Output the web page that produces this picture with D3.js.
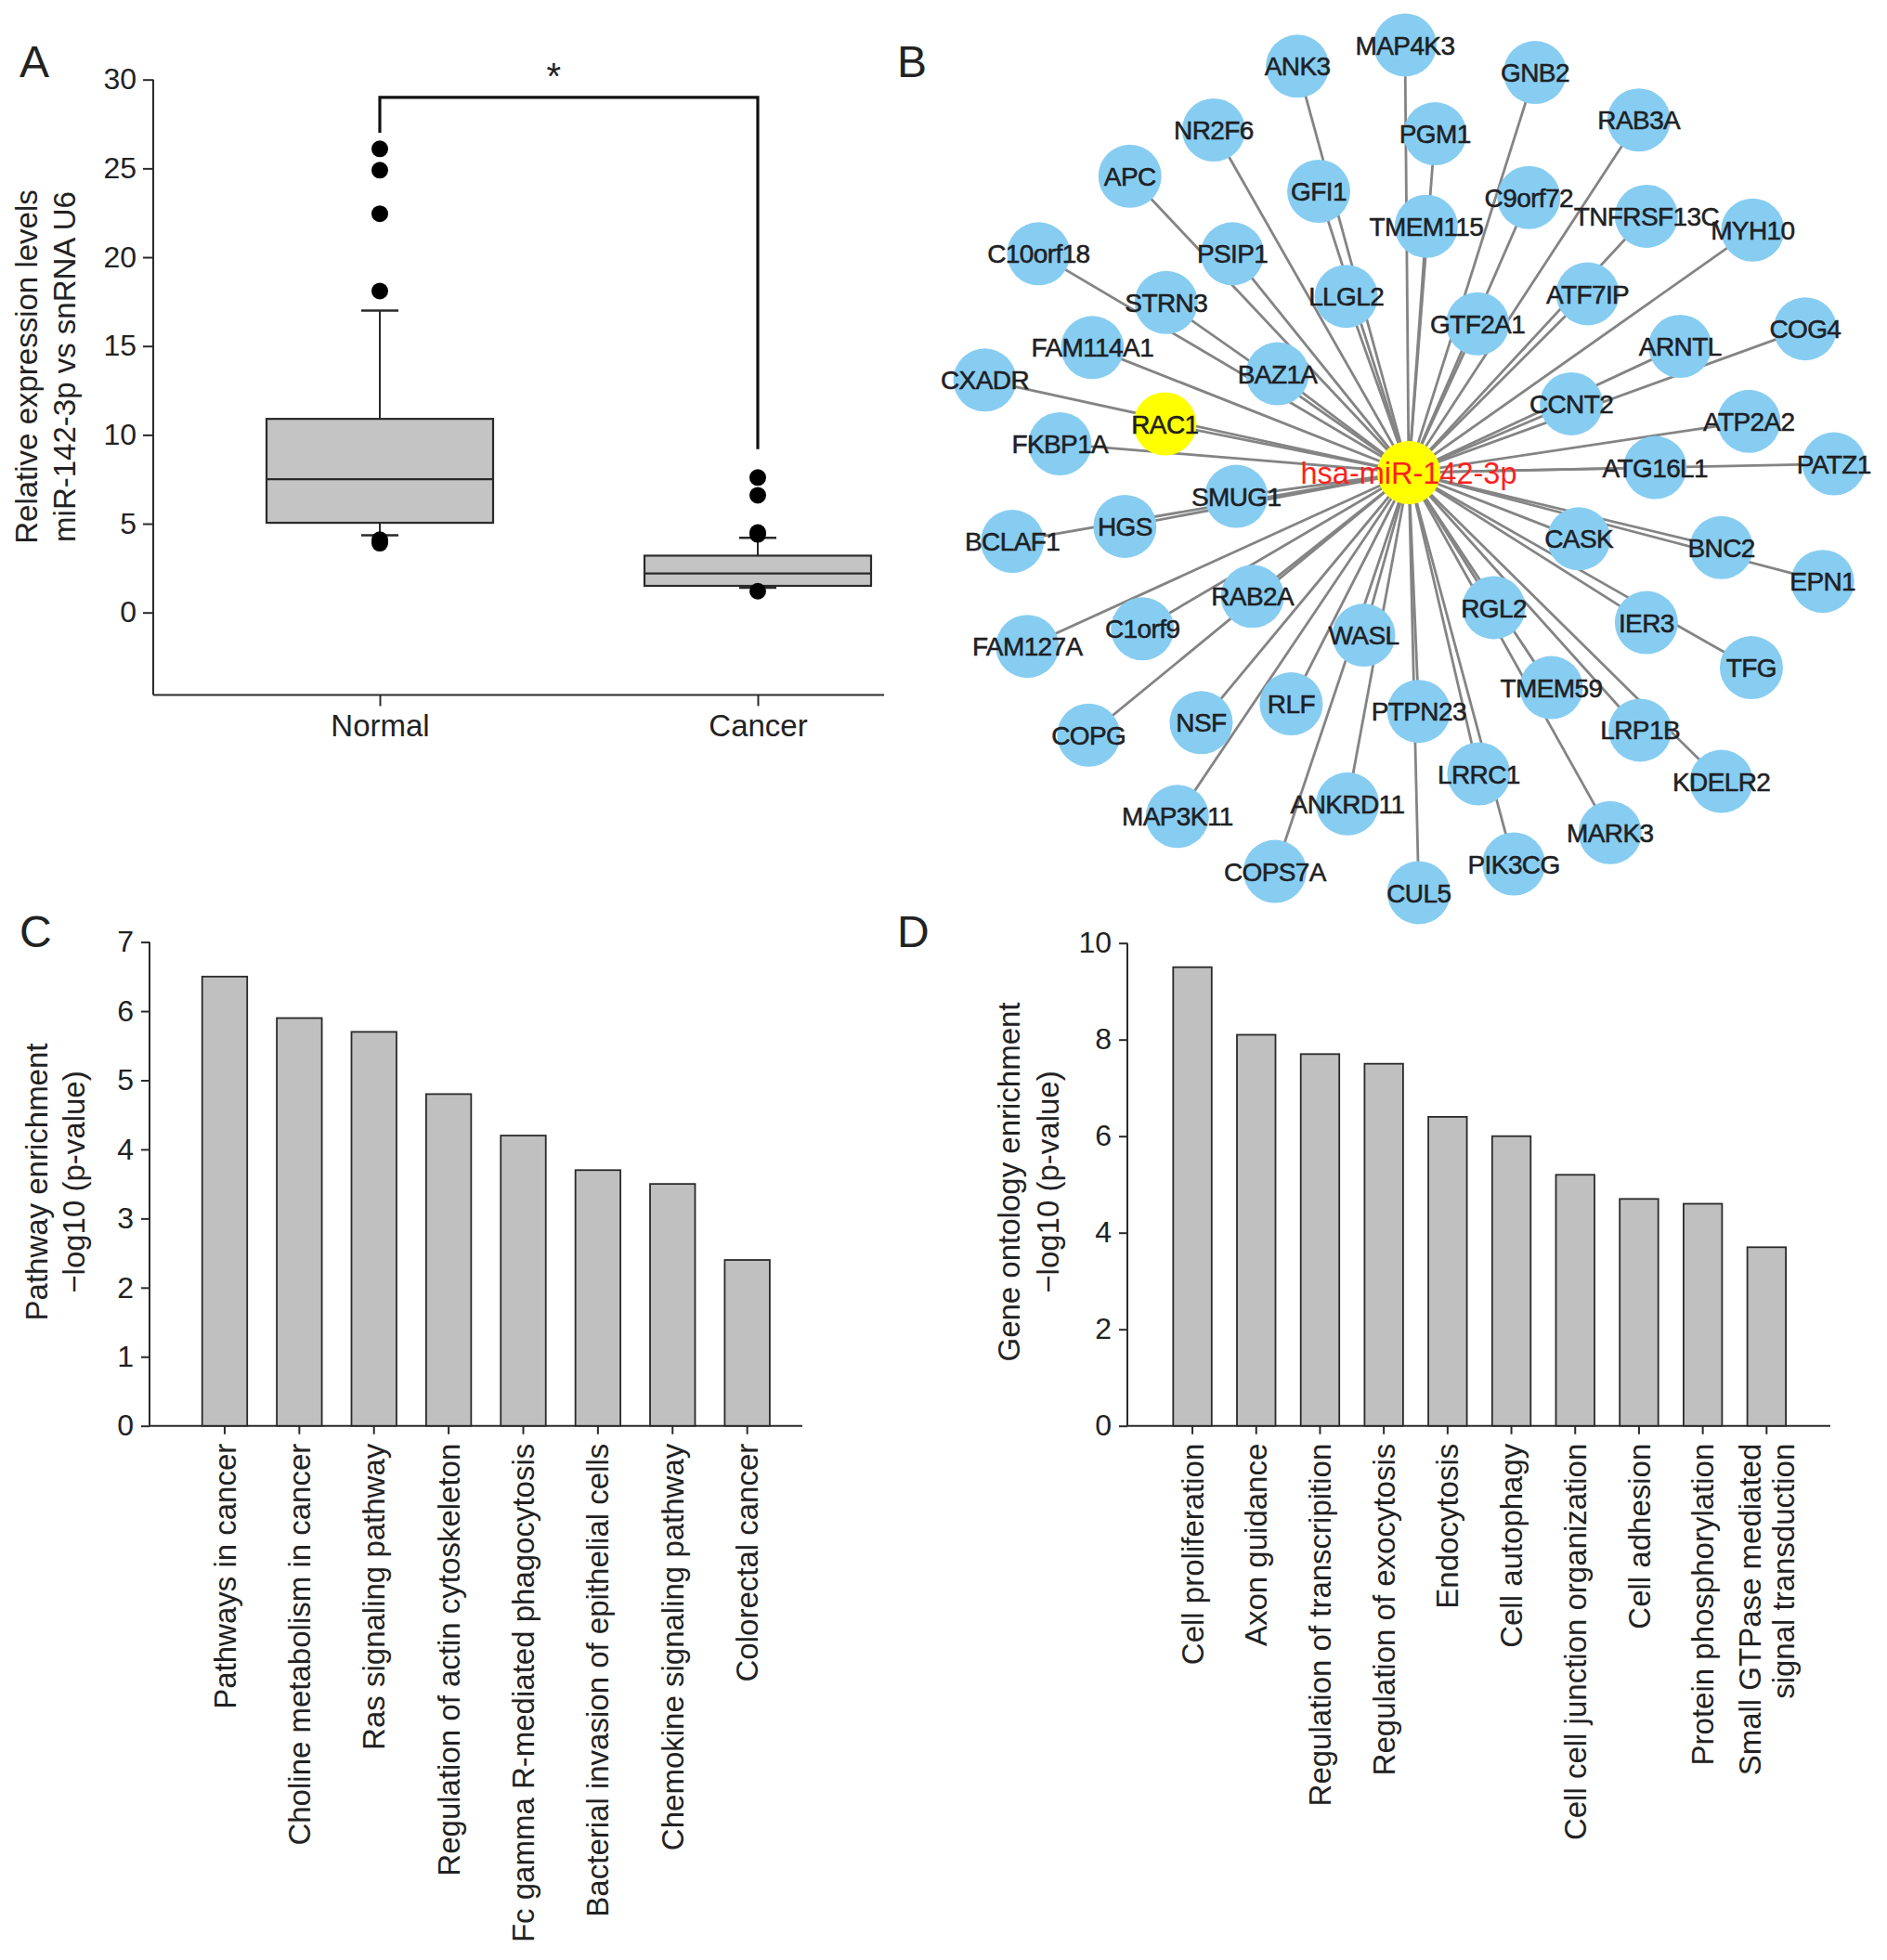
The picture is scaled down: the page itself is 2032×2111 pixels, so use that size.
<!DOCTYPE html>
<html><head><meta charset="utf-8">
<script src="https://cdn.jsdelivr.net/npm/d3@7"></script>
<style>
body{margin:0;background:#fff}
svg{display:block}
text{font-family:"Liberation Sans",Arial,Helvetica,sans-serif;fill:#222}
</style>
</head><body>
<svg id="fig" width="2032" height="2111"></svg>
<script>
// ---------------- Panel A: box plot data ----------------
const boxGroups = ["Normal", "Cancer"];
const boxQ1 = [5.05, 1.5];
const boxMedian = [7.5, 2.2];
const boxQ3 = [10.9, 3.2];
const boxWhiskerLow = [4.35, 1.4];
const boxWhiskerHigh = [17, 4.2];
const boxOutliers = [[26.1, 24.9, 22.45, 18.1, 4.1, 3.9], [7.6, 6.6, 4.5, 4.4, 1.2]];
const boxTicks = [0, 5, 10, 15, 20, 25, 30];
const sigLevels = [27, 29, 9.2]; // left end, bracket top, right end
const sigLabel = "*";

// ---------------- Panel B: network data ----------------
const hubName = "hsa-miR-142-3p";
const highlightGenes = ["RAC1"];
const geneNames = ["MAP4K3","ANK3","GNB2","NR2F6","PGM1","RAB3A","APC","GFI1","C9orf72","TMEM115",
  "TNFRSF13C","MYH10","C10orf18","PSIP1","STRN3","LLGL2","ATF7IP","GTF2A1","COG4","FAM114A1",
  "ARNTL","BAZ1A","CXADR","CCNT2","RAC1","ATP2A2","FKBP1A","PATZ1","ATG16L1","SMUG1",
  "HGS","BCLAF1","CASK","BNC2","EPN1","RAB2A","RGL2","IER3","C1orf9","WASL",
  "FAM127A","TFG","TMEM59","RLF","PTPN23","NSF","COPG","LRP1B","LRRC1","KDELR2",
  "ANKRD11","MAP3K11","MARK3","PIK3CG","COPS7A","CUL5"];
// layout coordinates relative to the hub (layout units)
const geneLayoutX = [-3,-89,101,-156,21,184,-223,-72,96,14,
  190,275,-296,-141,-194,-50,143,55,317,-253,
  217,-105,-339,130,-195,272,-279,340,197,-138,
  -227,-317,136,250,331,-125,68,190,-213,-36,
  -305,274,114,-94,8,-166,-256,185,56,250,
  -49,-185,161,84,-107,8];
const geneLayoutY = [-342,-325,-320,-274,-271,-282,-237,-225,-220,-197,
  -205,-194,-175,-175,-136,-141,-143,-119,-115,-100,
  -101,-79,-74,-55,-39,-41,-23,-7,-4,19,
  43,55,53,60,87,99,108,120,125,130,
  139,156,172,185,191,200,210,206,241,247,
  265,275,288,313,319,336];

// ---------------- Panel C: pathway enrichment ----------------
const pathwayNames = ["Pathways in cancer","Choline metabolism in cancer","Ras signaling pathway",
  "Regulation of actin cytoskeleton","Fc gamma R-mediated phagocytosis",
  "Bacterial invasion of epithelial cells","Chemokine signaling pathway","Colorectal cancer"];
const pathwayValues = [6.5, 5.9, 5.7, 4.8, 4.2, 3.7, 3.5, 2.4];
const pathwayTicks = [0, 1, 2, 3, 4, 5, 6, 7];

// ---------------- Panel D: GO enrichment ----------------
const goNames = ["Cell proliferation","Axon guidance","Regulation of transcripition","Regulation of exocytosis",
  "Endocytosis","Cell autophagy","Cell cell junction organization","Cell adhesion",
  "Protein phosphorylation","Small GTPase mediated\nsignal transduction"];
const goValues = [9.5, 8.1, 7.7, 7.5, 6.4, 6.0, 5.2, 4.7, 4.6, 3.7];
const goTicks = [0, 2, 4, 6, 8, 10];

// =====================================================
const svg = d3.select("#fig");
svg.append("rect").attr("width",2032).attr("height",2111).attr("fill","#fff");
const AX = "#2a2a2a";
const FS = 32;

function panelLetter(t, x, y){
  svg.append("text").attr("x",x).attr("y",y).attr("font-size",48).attr("fill","#111").text(t);
}
function yTitle(lines, xs, cy){
  lines.forEach((l,i)=>{
    svg.append("text").attr("transform",`translate(${xs[i]},${cy}) rotate(-90)`)
      .attr("text-anchor","middle").attr("dy","0.35em").attr("font-size",33).text(l);
  });
}
function styleAxis(g){
  g.selectAll("path.domain").remove();
  g.selectAll(".tick line").attr("stroke",AX).attr("stroke-width",2);
  g.selectAll(".tick text").attr("font-size",FS).attr("fill","#222")
    .attr("font-family",'"Liberation Sans",Arial,sans-serif');
}

// ---------------- Panel A ----------------
(function(){
  const y = d3.scaleLinear().domain([0,30]).range([659.7, 85.7]);
  const x = d3.scalePoint().domain(boxGroups).range([409, 816]);
  const yMinAxis = -4.64, xL = 165, xR = 952;
  const g = svg.append("g");
  g.append("line").attr("x1",xL).attr("x2",xL).attr("y1",y(30)).attr("y2",y(yMinAxis)).attr("stroke",AX).attr("stroke-width",2);
  g.append("line").attr("x1",xL).attr("x2",xR).attr("y1",y(yMinAxis)).attr("y2",y(yMinAxis)).attr("stroke",AX).attr("stroke-width",2);
  const ya = g.append("g").attr("transform",`translate(${xL},0)`)
    .call(d3.axisLeft(y).tickValues(boxTicks).tickFormat(d3.format("d")).tickSize(11).tickPadding(7));
  styleAxis(ya);
  const xa = g.append("g").attr("transform",`translate(0,${y(yMinAxis)})`)
    .call(d3.axisBottom(x).tickSize(12).tickPadding(9));
  styleAxis(xa);
  xa.selectAll(".tick text").attr("font-size",33);

  const bw = 244, cap = 40;
  boxGroups.forEach((grp,i)=>{
    const cx = x(grp);
    g.append("line").attr("x1",cx).attr("x2",cx).attr("y1",y(boxQ3[i])).attr("y2",y(boxWhiskerHigh[i])).attr("stroke",AX).attr("stroke-width",2);
    g.append("line").attr("x1",cx).attr("x2",cx).attr("y1",y(boxQ1[i])).attr("y2",y(boxWhiskerLow[i])).attr("stroke",AX).attr("stroke-width",2);
    [boxWhiskerHigh[i], boxWhiskerLow[i]].forEach(v=>{
      g.append("line").attr("x1",cx-cap/2).attr("x2",cx+cap/2).attr("y1",y(v)).attr("y2",y(v)).attr("stroke",AX).attr("stroke-width",2.5);
    });
    g.append("rect").attr("x",cx-bw/2).attr("width",bw).attr("y",y(boxQ3[i])).attr("height",y(boxQ1[i])-y(boxQ3[i]))
      .attr("fill","#c4c4c4").attr("stroke",AX).attr("stroke-width",2.2);
    g.append("line").attr("x1",cx-bw/2).attr("x2",cx+bw/2).attr("y1",y(boxMedian[i])).attr("y2",y(boxMedian[i])).attr("stroke",AX).attr("stroke-width",2.2);
    g.selectAll(null).data(boxOutliers[i]).enter().append("circle")
      .attr("cx",cx).attr("cy",d=>y(d)).attr("r",9).attr("fill","#000");
  });
  const sx1 = x(boxGroups[0]), sx2 = x(boxGroups[1]);
  g.append("path").attr("d",`M${sx1},${y(sigLevels[0])}V${y(sigLevels[1])}H${sx2}V${y(sigLevels[2])}`)
    .attr("fill","none").attr("stroke","#111").attr("stroke-width",3.2);
  g.append("text").attr("x",sx1+(sx2-sx1)*0.46).attr("y",y(sigLevels[1])-9).attr("text-anchor","middle")
    .attr("font-size",40).attr("fill","#111").text(sigLabel);

  yTitle(["Relative expression levels","miR-142-3p vs snRNA U6"],[28,69],395);
  panelLetter("A",21,83);
})();

// ---------------- Panel B ----------------
(function(){
  const k = 1.3466, cx = 1517, cy = 509;
  const x = d3.scaleLinear().domain([-400,400]).range([cx-400*k, cx+400*k]);
  const y = d3.scaleLinear().domain([-400,400]).range([cy-400*k, cy+400*k]);
  const nodes = geneNames.map((n,i)=>({name:n, x:geneLayoutX[i], y:geneLayoutY[i]}));
  const g = svg.append("g");
  g.selectAll("line.edge").data(nodes).enter().append("line").attr("class","edge")
    .attr("x1",x(0)).attr("y1",y(0)).attr("x2",d=>x(d.x)).attr("y2",d=>y(d.y))
    .attr("stroke","#848484").attr("stroke-width",2.8);
  const r = 34;
  g.selectAll("circle.node").data(nodes).enter().append("circle").attr("class","node")
    .attr("cx",d=>x(d.x)).attr("cy",d=>y(d.y)).attr("r",r)
    .attr("fill",d=>highlightGenes.includes(d.name)?"#ffff00":"#87cdf2");
  g.append("circle").attr("cx",x(0)).attr("cy",y(0)).attr("r",r).attr("fill","#ffff00");
  g.selectAll("text.lab").data(nodes).enter().append("text").attr("class","lab")
    .attr("x",d=>x(d.x)).attr("y",d=>y(d.y)).attr("dy","0.36em").attr("text-anchor","middle")
    .attr("font-size",28).attr("fill","#16161e").attr("stroke","#16161e").attr("stroke-width",0.5)
    .attr("letter-spacing",-0.6).text(d=>d.name);
  g.append("text").attr("x",x(0)).attr("y",y(0)).attr("dy","0.36em").attr("text-anchor","middle")
    .attr("font-size",32.5).attr("fill","#ff1f1f").style("fill","#ff1f1f").text(hubName);
  panelLetter("B",966,83);
})();

// ---------------- Bar panels ----------------
function barPanel(opt){
  const y = d3.scaleLinear().domain(opt.ydom).range([opt.y0, opt.y1]);
  const x = d3.scaleBand().domain(opt.names).range(opt.xrange).paddingInner(opt.pi).paddingOuter(0.3);
  const g = svg.append("g");
  g.append("line").attr("x1",opt.axL).attr("x2",opt.axL).attr("y1",opt.y1).attr("y2",opt.y0).attr("stroke",AX).attr("stroke-width",2);
  g.append("line").attr("x1",opt.axL).attr("x2",opt.axR).attr("y1",opt.y0).attr("y2",opt.y0).attr("stroke",AX).attr("stroke-width",2);
  g.selectAll("rect").data(opt.names).enter().append("rect")
    .attr("x",d=>x(d)).attr("width",x.bandwidth())
    .attr("y",(d,i)=>y(opt.values[i])).attr("height",(d,i)=>opt.y0-y(opt.values[i]))
    .attr("fill","#c0c0c0").attr("stroke",AX).attr("stroke-width",1.8);
  const ya = g.append("g").attr("transform",`translate(${opt.axL},0)`)
    .call(d3.axisLeft(y).tickValues(opt.ticks).tickFormat(d3.format("d")).tickSize(9).tickPadding(8));
  styleAxis(ya);
  const xa = g.append("g").attr("transform",`translate(0,${opt.y0})`)
    .call(d3.axisBottom(x).tickSize(9).tickFormat(""));
  styleAxis(xa);
  opt.names.forEach(n=>{
    const lines = n.split("\n");
    const t = g.append("text").attr("transform",`translate(${x(n)+x.bandwidth()/2},${opt.y0+19}) rotate(-90)`)
      .attr("text-anchor","end").attr("font-size",33);
    const off = (lines.length-1)*0.55;
    lines.forEach((l,j)=>{
      t.append("tspan").attr("x",0).attr("y",0).attr("dy",(0.35 - off + j*1.1)+"em").text(l);
    });
  });
  yTitle(opt.title, opt.titleX, 1273);
  panelLetter(opt.letter, opt.letterX, 1020);
}

barPanel({names:pathwayNames, values:pathwayValues, ticks:pathwayTicks, ydom:[0,7],
  y0:1535.7, y1:1014.6, xrange:[193.6,853], pi:0.397, axL:161, axR:864,
  title:["Pathway enrichment","\u2212log10 (p-value)"], titleX:[39,79], letter:"C", letterX:21});

barPanel({names:goNames, values:goValues, ticks:goTicks, ydom:[0,10],
  y0:1535.7, y1:1015.7, xrange:[1242.7,1943.7], pi:0.396, axL:1214, axR:1971,
  title:["Gene ontology enrichment","\u2212log10 (p-value)"], titleX:[1086,1128], letter:"D", letterX:966});
</script>
</body></html>
